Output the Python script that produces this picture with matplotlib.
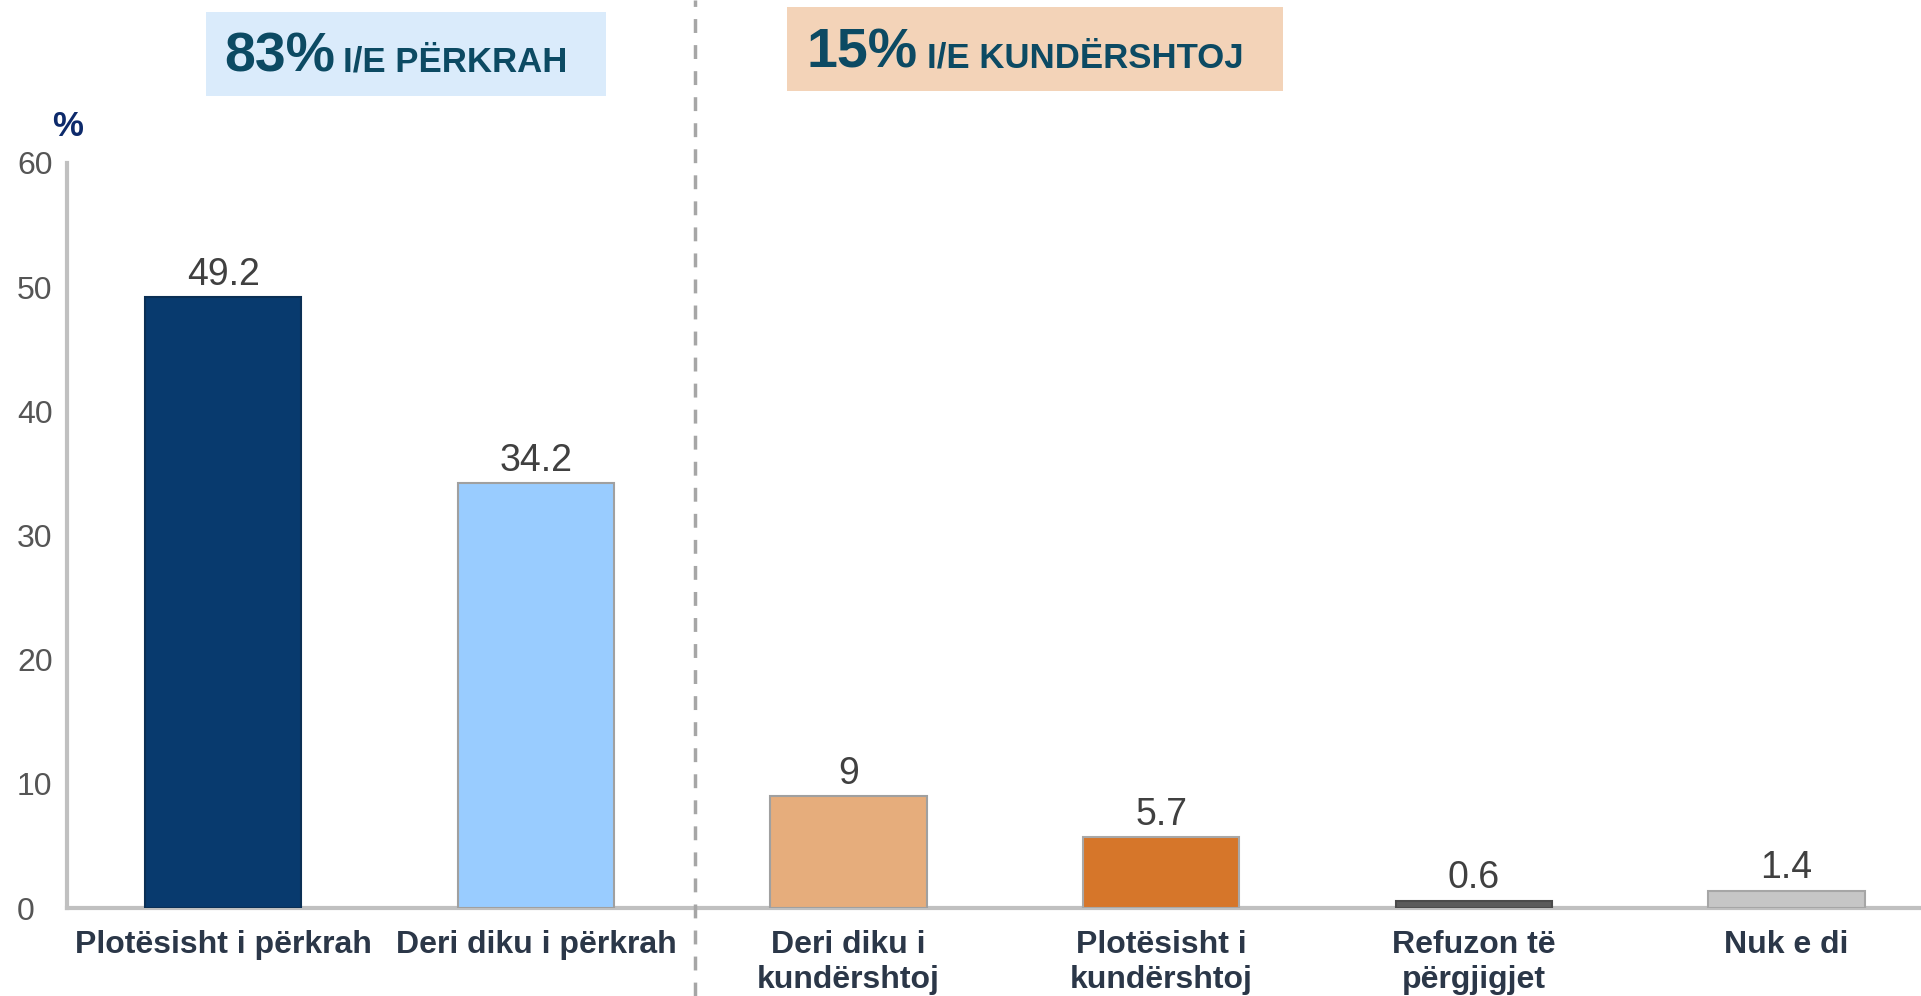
import matplotlib
matplotlib.use("Agg")
import matplotlib.pyplot as plt
from matplotlib import font_manager
from matplotlib.patches import Rectangle
from matplotlib.lines import Line2D
import matplotlib.transforms as mtransforms

# te dhenat e grafikut
kategorite = ["Plotësisht i përkrah", "Deri diku i përkrah", "Deri diku i\nkundërshtoj",
              "Plotësisht i\nkundërshtoj", "Refuzon të\npërgjigjet", "Nuk e di"]
vlerat = [49.2, 34.2, 9, 5.7, 0.6, 1.4]
ngjyrat = ["#083A6E", "#99CCFF", "#E6AD7C", "#D6762A", "#5A5A5A", "#C6C6C6"]
skajet = ["#0A2F55", "#A0A0A0", "#A0A0A0", "#A8A8A8", "#4A4A4A", "#A6A6A6"]
y_ticks = [0, 10, 20, 30, 40, 50, 60]
tituj = [("83%", "I/E PËRKRAH"), ("15%", "I/E KUNDËRSHTOJ")]

# fonti i ngushte nese ekziston
emrat = {f.name for f in font_manager.fontManager.ttflist}
narrow = "Liberation Sans Narrow" if "Liberation Sans Narrow" in emrat else "Liberation Sans"
plt.rcParams['font.family'] = ["Liberation Sans", "DejaVu Sans"]

fig = plt.figure(figsize=(19.21, 9.96), dpi=100)
ax = fig.add_axes([67/1921, 88/996, 1 - 67/1921, 745/996])

x = range(len(vlerat))
bars = ax.bar(x, vlerat, width=0.5, color=ngjyrat, edgecolor=skajet, linewidth=1.5, zorder=3)
ax.bar_label(bars, labels=[f"{v:g}" for v in vlerat], padding=3, fontsize=27, color="#404040")

ax.set_xlim(-0.5, 5.43)
ax.set_ylim(0, 60)
ax.set_yticks(y_ticks)
ax.set_yticklabels([str(t) for t in y_ticks], fontsize=23, color="#555555")
for t in ax.get_yticklabels():
    t.set_ha("left")
ax.tick_params(axis="y", length=0, pad=36)
ax.set_xticks(list(x))
ax.set_xticklabels(kategorite, fontsize=23, fontweight="bold", color="#2B3748",
                   family=[narrow, "DejaVu Sans"], linespacing=1.2)
ax.tick_params(axis="x", length=0, pad=16)

for s in ["top", "right"]:
    ax.spines[s].set_visible(False)
for s in ["left", "bottom"]:
    ax.spines[s].set_color("#C0C0C0")
    ax.spines[s].set_linewidth(3)

# vija e ndarjes
trans = mtransforms.blended_transform_factory(ax.transData, fig.transFigure)
fig.add_artist(Line2D([1.51, 1.51], [0, 1], transform=trans, color="#A6A6A6",
                      linewidth=2.5, linestyle=(0, (4, 3.5)), clip_on=False))

# kutite e titujve
fig.add_artist(Rectangle((206/1921, 1 - 96/996), 400/1921, 84/996, transform=fig.transFigure,
                         facecolor="#DAEBFB", edgecolor="none"))
fig.add_artist(Rectangle((787/1921, 1 - 91/996), 496/1921, 84/996, transform=fig.transFigure,
                         facecolor="#F3D3B8", edgecolor="none"))
poz = [(224, 343, 71), (806, 927, 67)]
for (nr, tekst), (x1, x2, yb) in zip(tituj, poz):
    fig.text(x1/1921, 1 - yb/996, nr, fontsize=40, fontweight="bold", color="#0C4A63",
             family=[narrow, "DejaVu Sans"], va="baseline")
    fig.text(x2/1921, 1 - yb/996, tekst, fontsize=25, fontweight="bold", color="#0C4A63",
             family=[narrow, "DejaVu Sans"], va="baseline")

fig.text(52/1921, 1 - 126/996, "%", fontsize=25, fontweight="bold", color="#0D2A6B", va="center")

fig.savefig("out.png", dpi=100)
